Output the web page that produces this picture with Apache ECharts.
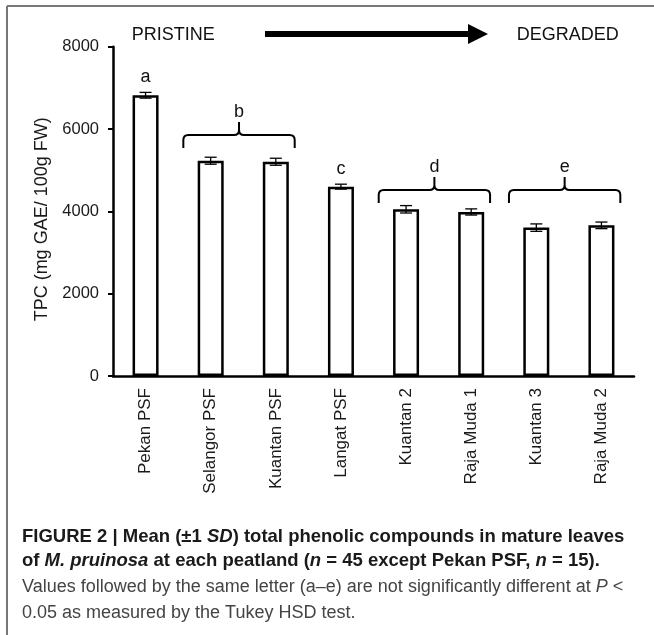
<!DOCTYPE html>
<html>
<head>
<meta charset="utf-8">
<script src="https://cdn.jsdelivr.net/npm/echarts@6/dist/echarts.min.js"></script>
<style>
  html, body { margin: 0; padding: 0; background: #fff; }
  #chart { width: 654px; height: 635px; }
</style>
</head>
<body>
<div id="chart"></div>
<script>
// ---- data ----
const categories = ['Pekan PSF', 'Selangor PSF', 'Kuantan PSF', 'Langat PSF', 'Kuantan 2', 'Raja Muda 1', 'Kuantan 3', 'Raja Muda 2'];
const tpcMean = [6820, 5230, 5205, 4600, 4050, 3985, 3605, 3660];
const tpcSD = [70, 85, 85, 60, 90, 75, 90, 80];
const groupLetter = ['a', 'b', 'c', 'd', 'e'];
const groupFirst = [0, 1, 3, 4, 6];
const groupLast = [0, 2, 3, 5, 7];
const braceValue = [null, 5855, null, 4520, 4520];
const yTickValues = [0, 2000, 4000, 6000, 8000];
const axisTitle = 'TPC (mg GAE/ 100g FW)';

const FONT = "'Liberation Sans', Arial, sans-serif";
const CAPFONT = "'Liberation Sans', Arial, sans-serif";

const chart = echarts.init(document.getElementById('chart'), null, { renderer: 'canvas' });

const errData = categories.map((c, i) => [i, tpcMean[i] - tpcSD[i], tpcMean[i] + tpcSD[i]]);
const groupData = groupLetter.map((l, i) => [groupFirst[i], groupLast[i]]);

function renderErr(params, api) {
  const i = api.value(0);
  const lo = api.coord([i, api.value(1)]);
  const hi = api.coord([i, api.value(2)]);
  const hw = 6;
  const st = { stroke: '#000', lineWidth: 1.3 };
  return {
    type: 'group',
    children: [
      { type: 'line', shape: { x1: lo[0], y1: lo[1], x2: hi[0], y2: hi[1] }, style: st },
      { type: 'line', shape: { x1: lo[0] - hw, y1: lo[1], x2: lo[0] + hw, y2: lo[1] }, style: st },
      { type: 'line', shape: { x1: hi[0] - hw, y1: hi[1], x2: hi[0] + hw, y2: hi[1] }, style: st }
    ]
  };
}

function renderGroup(params, api) {
  const k = params.dataIndex;
  const first = api.value(0), last = api.value(1);
  const cw = api.size([1, 0])[0];
  const letterStyle = { text: groupLetter[k], fill: '#111', font: '18px ' + FONT, align: 'center', verticalAlign: 'middle' };
  if (braceValue[k] == null) {
    const top = api.coord([first, tpcMean[first] + tpcSD[first]]);
    return { type: 'text', x: top[0], y: top[1] - 15, style: letterStyle };
  }
  const p1 = api.coord([first, braceValue[k]]);
  const p2 = api.coord([last, braceValue[k]]);
  const x1 = p1[0] - 0.42 * cw;
  const x2 = p2[0] + 0.29 * cw;
  const xm = (x1 + x2) / 2;
  const y0 = p1[1];
  const r = 5, h = 13;
  const d = `M ${x1} ${y0 + h} L ${x1} ${y0 + r} Q ${x1} ${y0} ${x1 + r} ${y0} L ${xm - r} ${y0} Q ${xm} ${y0} ${xm} ${y0 - r} L ${xm} ${y0 - h} ` +
            `M ${xm} ${y0 - r} Q ${xm} ${y0} ${xm + r} ${y0} L ${x2 - r} ${y0} Q ${x2} ${y0} ${x2} ${y0 + r} L ${x2} ${y0 + h}`;
  return {
    type: 'group',
    children: [
      { type: 'path', shape: { pathData: d }, style: { stroke: '#000', lineWidth: 2, fill: null } },
      { type: 'text', x: xm, y: y0 - h - 10, style: letterStyle }
    ]
  };
}

const option = {
  animation: false,
  backgroundColor: '#fff',
  grid: { left: 113, right: 20, top: 46.7, bottom: 259, containLabel: false },
  xAxis: {
    type: 'category',
    data: categories,
    axisLine: { show: true, lineStyle: { color: '#000', width: 2.5 } },
    axisTick: { show: false },
    axisLabel: { rotate: 90, margin: 12, fontSize: 17, fontFamily: FONT, color: '#1a1a1a' }
  },
  yAxis: {
    type: 'value',
    min: yTickValues[0],
    max: yTickValues[yTickValues.length - 1],
    interval: yTickValues[1] - yTickValues[0],
    name: axisTitle,
    nameLocation: 'middle',
    nameRotate: 90,
    nameGap: 62,
    nameTextStyle: { fontSize: 18, fontFamily: FONT, color: '#1a1a1a', padding: [0, 16, 0, 0] },
    splitLine: { show: false },
    axisLine: { show: true, lineStyle: { color: '#000', width: 2.5 } },
    axisTick: { show: true, length: 5, lineStyle: { color: '#000', width: 2 } },
    axisLabel: { margin: 14, fontSize: 16.5, fontFamily: FONT, color: '#1a1a1a', formatter: v => String(v) }
  },
  series: [
    {
      type: 'bar',
      data: tpcMean,
      barWidth: 26,
      itemStyle: { color: '#fff', borderColor: '#000', borderWidth: 2.5 }
    },
    {
      type: 'custom',
      data: errData,
      renderItem: renderErr,
      clip: false,
      z: 5
    },
    {
      type: 'custom',
      data: groupData,
      renderItem: renderGroup,
      clip: false,
      z: 5
    }
  ],
  graphic: [
    { type: 'line', shape: { x1: 7, y1: 6, x2: 654, y2: 6 }, style: { stroke: '#777', lineWidth: 2 } },
    { type: 'line', shape: { x1: 7, y1: 6, x2: 7, y2: 635 }, style: { stroke: '#777', lineWidth: 2 } },
    { type: 'text', left: 131.7, top: 26, style: { text: 'PRISTINE', font: '18px ' + FONT, fill: '#111' } },
    { type: 'text', left: 516.7, top: 26, style: { text: 'DEGRADED', font: '18px ' + FONT, fill: '#111' } },
    { type: 'line', shape: { x1: 265, y1: 34, x2: 470, y2: 34 }, style: { stroke: '#000', lineWidth: 6 } },
    { type: 'polygon', shape: { points: [[468, 24], [488, 34], [468, 44]] }, style: { fill: '#000' } },
    {
      type: 'text', x: 22, y: 537,
      style: {
        text: '{b|FIGURE 2 | Mean (±1 }{bi|SD}{b|) total phenolic compounds in mature leaves}',
        verticalAlign: 'middle',
        rich: {
          b: { font: 'bold 18.5px ' + CAPFONT, fill: '#1a1a1a' },
          bi: { font: 'italic bold 18.5px ' + CAPFONT, fill: '#1a1a1a' }
        }
      }
    },
    {
      type: 'text', x: 22, y: 561,
      style: {
        text: '{b|of }{bi|M. pruinosa}{b| at each peatland (}{bi|n}{b| = 45 except Pekan PSF, }{bi|n}{b| = 15).}',
        verticalAlign: 'middle',
        rich: {
          b: { font: 'bold 18.5px ' + CAPFONT, fill: '#1a1a1a' },
          bi: { font: 'italic bold 18.5px ' + CAPFONT, fill: '#1a1a1a' }
        }
      }
    },
    {
      type: 'text', x: 22, y: 587,
      style: {
        text: '{r|Values followed by the same letter (a–e) are not significantly different at }{ri|P}{r| <}',
        verticalAlign: 'middle',
        rich: {
          r: { font: '18px ' + CAPFONT, fill: '#444' },
          ri: { font: 'italic 18px ' + CAPFONT, fill: '#444' }
        }
      }
    },
    {
      type: 'text', x: 22, y: 613,
      style: {
        text: '0.05 as measured by the Tukey HSD test.',
        font: '18px ' + CAPFONT, fill: '#444', verticalAlign: 'middle'
      }
    }
  ]
};

chart.setOption(option);
</script>
</body>
</html>
